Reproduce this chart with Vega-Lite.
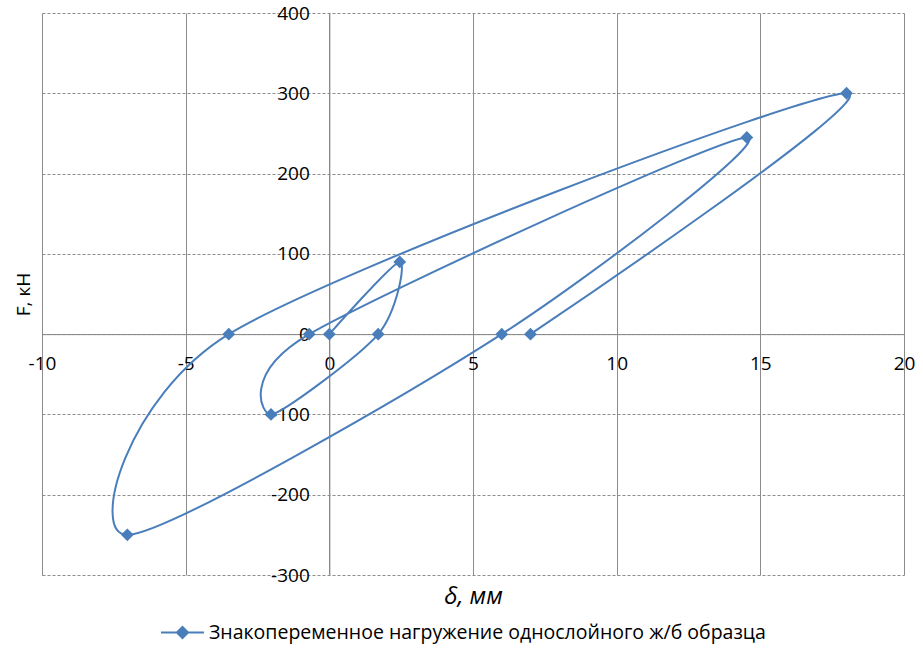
{
  "$schema": "https://vega.github.io/schema/vega-lite/v6.json",
  "width": 862,
  "height": 562,
  "autosize": {"type": "none"},
  "padding": {"left": 42, "top": 13, "right": 19, "bottom": 75},
  "config": {"font": "Open Sans", "view": {"stroke": null}},
  "data": {
    "values": [
      {"i": 0, "d": 0, "F": 0, "s": "Знакопеременное нагружение однослойного ж/б образца"},
      {"i": 1, "d": 2.45, "F": 90, "s": "Знакопеременное нагружение однослойного ж/б образца"},
      {"i": 2, "d": 1.7, "F": 0, "s": "Знакопеременное нагружение однослойного ж/б образца"},
      {"i": 3, "d": -2.03, "F": -100, "s": "Знакопеременное нагружение однослойного ж/б образца"},
      {"i": 4, "d": -0.7, "F": 0, "s": "Знакопеременное нагружение однослойного ж/б образца"},
      {"i": 5, "d": 14.53, "F": 245, "s": "Знакопеременное нагружение однослойного ж/б образца"},
      {"i": 6, "d": 6.0, "F": 0, "s": "Знакопеременное нагружение однослойного ж/б образца"},
      {"i": 7, "d": -7.03, "F": -250, "s": "Знакопеременное нагружение однослойного ж/б образца"},
      {"i": 8, "d": -3.5, "F": 0, "s": "Знакопеременное нагружение однослойного ж/б образца"},
      {"i": 9, "d": 18.0, "F": 300, "s": "Знакопеременное нагружение однослойного ж/б образца"},
      {"i": 10, "d": 7.0, "F": 0, "s": "Знакопеременное нагружение однослойного ж/б образца"}
    ]
  },
  "layer": [
    {
      "mark": {"type": "point", "opacity": 0},
      "encoding": {
        "x": {
          "field": "d", "type": "quantitative",
          "scale": {"domain": [-10, 20], "nice": false, "zero": false},
          "axis": {
            "orient": "bottom", "grid": true, "gridColor": "#8c8c8c", "gridWidth": 1,
            "domain": false, "ticks": false, "labels": false,
            "values": [-10, -5, 0, 5, 10, 15, 20],
            "title": "δ, мм", "titleFontStyle": "italic", "titleFontWeight": "normal",
            "titleFontSize": 24, "titlePadding": 9, "titleColor": "#000000", "zindex": 0
          }
        },
        "y": {
          "field": "F", "type": "quantitative",
          "scale": {"domain": [-300, 400], "nice": false, "zero": false},
          "axis": {
            "orient": "left", "grid": true, "gridColor": "#8c8c8c", "gridWidth": 1, "gridDash": [3, 2],
            "domain": false, "ticks": false, "labels": false,
            "values": [-300, -200, -100, 0, 100, 200, 300, 400],
            "title": "F, кН", "titleFontWeight": "normal",
            "titleFontSize": 19, "titlePadding": 9, "titleColor": "#000000", "zindex": 0
          }
        }
      }
    },
    {
      "mark": {
        "type": "line", "interpolate": "cardinal", "tension": 0.15, "strokeWidth": 2,
        "point": {"shape": "diamond", "size": 165, "filled": true, "opacity": 1}
      },
      "encoding": {
        "x": {
          "field": "d", "type": "quantitative",
          "scale": {"domain": [-10, 20], "nice": false, "zero": false},
          "axis": {
            "orient": "bottom", "offset": -240.86, "grid": false,
            "domainColor": "#868686", "domainWidth": 1, "ticks": false,
            "values": [-10, -5, 0, 5, 10, 15, 20],
            "labelExpr": "replace(datum.label, '−', '-')",
            "labelFontSize": 19, "labelColor": "#000000", "labelPadding": 20,
            "labelFlush": false, "labelOverlap": false, "title": null, "zindex": 0
          }
        },
        "y": {
          "field": "F", "type": "quantitative",
          "scale": {"domain": [-300, 400], "nice": false, "zero": false},
          "axis": {
            "orient": "left", "offset": -287.33, "grid": false,
            "domainColor": "#868686", "domainWidth": 1, "ticks": false,
            "values": [-300, -200, -100, 0, 100, 200, 300, 400],
            "labelExpr": "replace(datum.label, '−', '-')",
            "labelFontSize": 19, "labelColor": "#000000", "labelPadding": 20,
            "labelFlush": false, "labelOverlap": false, "title": null, "zindex": 0
          }
        },
        "order": {"field": "i", "type": "quantitative"},
        "color": {
          "field": "s", "type": "nominal",
          "scale": {"range": ["#4A7EBB"]},
          "legend": {
            "orient": "none", "legendX": 118, "legendY": 597, "title": null,
            "labelFontSize": 19.5, "labelColor": "#000000", "labelOffset": 4,
            "symbolType": "M-1,0H1M0,-0.26L0.26,0L0,0.26L-0.26,0Z",
            "symbolSize": 1849, "symbolStrokeWidth": 2,
            "symbolFillColor": "#4A7EBB", "symbolStrokeColor": "#4A7EBB",
            "labelLimit": 800
          }
        }
      }
    }
  ],
  "resolve": {"axis": {"x": "independent", "y": "independent"}}
}
